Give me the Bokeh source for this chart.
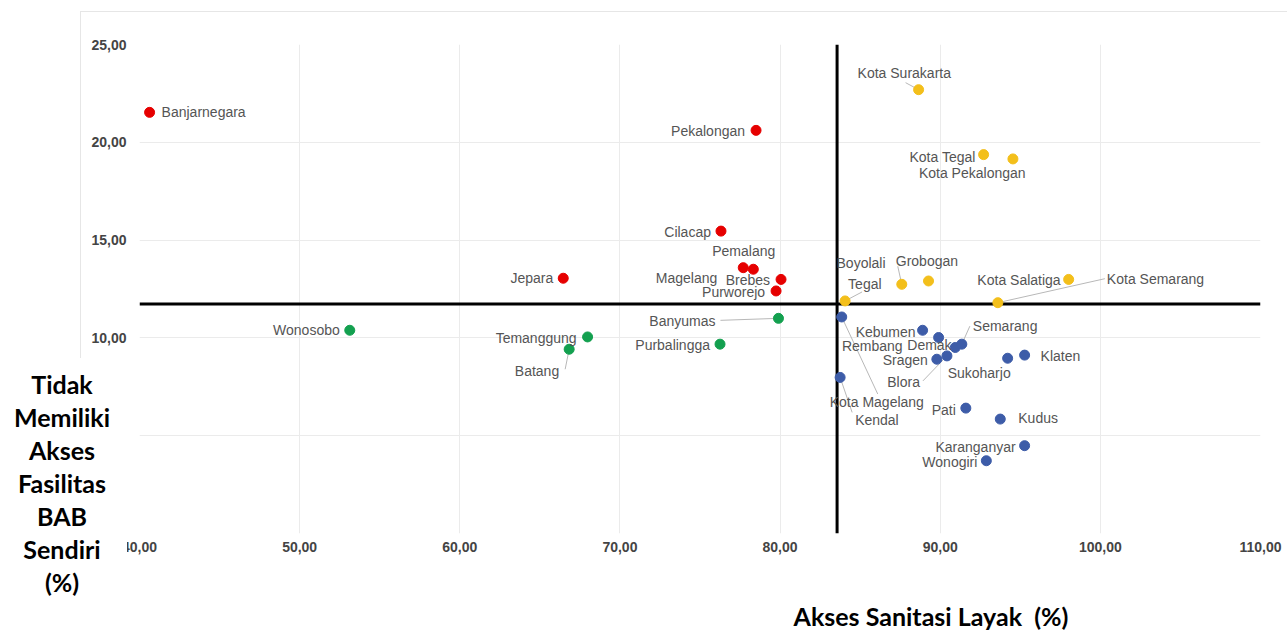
from bokeh.plotting import figure
from bokeh.models import ColumnDataSource, Range1d, FixedTicker, Span, Div, GridBox
from bokeh.core.properties import value
from bokeh.embed import file_html
from bokeh.resources import INLINE

# ---------------- data ----------------
kabupaten = [
    "Banjarnegara", "Pekalongan", "Cilacap", "Pemalang", "Magelang", "Brebes", "Purworejo", "Jepara",
    "Wonosobo", "Temanggung", "Batang", "Purbalingga", "Banyumas",
    "Kota Surakarta", "Kota Tegal", "Kota Pekalongan", "Boyolali", "Grobogan", "Tegal", "Kota Salatiga", "Kota Semarang",
    "Kota Magelang", "Kendal", "Kebumen", "Rembang", "Demak", "Semarang", "Sragen", "Blora",
    "Sukoharjo", "Klaten", "Pati", "Kudus", "Karanganyar", "Wonogiri",
]
akses_sanitasi = [
    40.63, 78.50, 76.31, 77.70, 78.33, 80.06, 79.75, 66.46,
    53.13, 67.98, 66.83, 76.25, 79.90,
    88.65, 92.71, 94.54, 89.27, 87.60, 84.06, 98.02, 93.60,
    83.85, 83.75, 88.90, 89.90, 90.94, 91.35, 89.79, 90.42,
    94.21, 95.27, 91.60, 93.75, 95.27, 92.88,
]
tanpa_bab = [
    21.53, 20.61, 15.46, 13.59, 13.51, 12.99, 12.40, 13.05,
    10.39, 10.05, 9.42, 9.68, 11.00,
    22.69, 19.37, 19.15, 12.91, 12.74, 11.89, 12.99, 11.80,
    11.07, 7.98, 10.39, 10.02, 9.51, 9.68, 8.91, 9.08,
    8.96, 9.12, 6.41, 5.85, 4.49, 3.72,
]
kuadran = (["merah"] * 8) + (["hijau"] * 5) + (["kuning"] * 8) + (["biru"] * 14)

rata_sanitasi = 83.56
rata_bab = 11.73

x_ticks = [40, 50, 60, 70, 80, 90, 100, 110]
x_tick_labels = ["40,00", "50,00", "60,00", "70,00", "80,00", "90,00", "100,00", "110,00"]
y_ticks = [0, 5, 10, 15, 20, 25]
y_tick_labels = ["0,00", "5,00", "10,00", "15,00", "20,00", "25,00"]

judul_x = "Akses Sanitasi Layak&nbsp; (%)"
judul_y = ["Tidak", "Memiliki", "Akses", "Fasilitas", "BAB", "Sendiri", "(%)"]

# ---------------- styling / layout ----------------
warna = {"merah": "#e60000", "hijau": "#13a04f", "kuning": "#f3bf1b", "biru": "#3d5ca8"}

# label placement: (dx px, dy px (down positive), align)
label_pos = {
    "Banjarnegara": (12, 0, "left"), "Pekalongan": (-11, 1, "right"), "Cilacap": (-10, 1, "right"),
    "Pemalang": (-31, -17, "left"), "Magelang": (-36, 9, "right"), "Brebes": (-11, 1, "right"),
    "Purworejo": (-11, 1, "right"), "Jepara": (-10, 0, "right"),
    "Wonosobo": (-10, 0, "right"), "Temanggung": (-11, 1, "right"), "Batang": (-10, 22, "right"),
    "Purbalingga": (-10, 1, "right"), "Banyumas": (-63, 3, "right"),
    "Kota Surakarta": (-61, -17, "left"), "Kota Tegal": (-8, 2, "right"), "Kota Pekalongan": (-94, 14, "left"),
    "Boyolali": (-92, -18, "left"), "Grobogan": (-6, -23, "left"), "Tegal": (3, -17, "left"),
    "Kota Salatiga": (-8, 1, "right"), "Kota Semarang": (109, -24, "left"),
    "Kota Magelang": (-12, 85, "left"), "Kendal": (15, 43, "left"), "Kebumen": (-7, 2, "right"),
    "Rembang": (-36, 8, "right"), "Demak": (-48, -2, "left"), "Semarang": (11, -18, "left"),
    "Sragen": (-9, 1, "right"), "Blora": (-27, 26, "right"), "Sukoharjo": (-60, 15, "left"),
    "Klaten": (16, 1, "left"), "Pati": (-10, 2, "right"), "Kudus": (18, -1, "left"),
    "Karanganyar": (-9, 1, "right"), "Wonogiri": (-9, 1, "right"),
}
leaders = {
    "Batang": (-4, 20), "Banyumas": (-58, 2), "Kota Surakarta": (-13, -7), "Grobogan": (-4, -18),
    "Tegal": (17, -9), "Kota Semarang": (107, -24), "Semarang": (8, -18), "Blora": (-24, 25),
    "Kota Magelang": (36, 77), "Kendal": (12, 35),
}

FW, FH = 1121, 489
X0, X1, Y0, Y1 = 40, 110, 0, 25
px_x = FW / (X1 - X0)
px_y = FH / (Y1 - Y0)

p = figure(frame_width=FW, frame_height=FH, min_border_left=139, min_border_right=27,
           min_border_top=44, min_border_bottom=99,
           x_range=Range1d(X0, X1), y_range=Range1d(Y0, Y1),
           output_backend="svg", toolbar_location=None)
p.outline_line_color = None
p.background_fill_color = "white"
p.border_fill_color = "white"

for ax, ticks, labels in ((p.xaxis[0], x_ticks, x_tick_labels), (p.yaxis[0], y_ticks, y_tick_labels)):
    ax.ticker = FixedTicker(ticks=ticks)
    ax.major_label_overrides = {t: l for t, l in zip(ticks, labels)}
    ax.axis_line_color = None
    ax.major_tick_line_color = None
    ax.minor_tick_line_color = None
    ax.major_tick_out = 0
    ax.major_tick_in = 0
    ax.major_label_text_font = "Liberation Sans"
    ax.major_label_text_font_size = "14px"
    ax.major_label_text_font_style = "bold"
    ax.major_label_text_color = "#444444"
p.xaxis.major_label_standoff = 8
p.yaxis.major_label_standoff = 13

for g in (p.xgrid[0], p.ygrid[0]):
    g.grid_line_color = "#ebebeb"
    g.grid_line_width = 1

vs = Span(location=rata_sanitasi, dimension="height", line_color="black", line_width=3, level="underlay")
hs = Span(location=rata_bab, dimension="width", line_color="black", line_width=3, level="underlay")
p.add_layout(vs)
p.add_layout(hs)

# leader lines
idx = {n: i for i, n in enumerate(kabupaten)}
lx0, ly0, lx1, ly1 = [], [], [], []
for n, (dx, dy) in leaders.items():
    i = idx[n]
    lx0.append(akses_sanitasi[i]); ly0.append(tanpa_bab[i])
    lx1.append(akses_sanitasi[i] + dx / px_x); ly1.append(tanpa_bab[i] - dy / px_y)
p.segment(lx0, ly0, lx1, ly1, line_color="#b8b8b8", line_width=1)

src = ColumnDataSource(dict(
    x=akses_sanitasi, y=tanpa_bab, nama=kabupaten,
    warna=[warna[k] for k in kuadran],
    dx=[label_pos[n][0] for n in kabupaten],
    dy=[label_pos[n][1] for n in kabupaten],
    align=[label_pos[n][2] for n in kabupaten],
))
p.scatter("x", "y", source=src, size=10, fill_color="warna", line_color="warna")
p.text("x", "y", text="nama", source=src, x_offset="dx", y_offset="dy", text_align="align",
       text_baseline="middle", text_font=value("Liberation Sans"), text_font_size="14px",
       text_color="#555555")

# axis titles as overlaid text boxes (as in the reference)
ydiv = Div(text=("<div style=\"width:124px;padding-top:10px;text-align:center;font-family:Lato;"
                 "font-weight:bold;font-size:25px;line-height:33px;color:#000;\">"
                 + "<br>".join(judul_y) + "</div>"),
           width=127, height=274, margin=(358, 0, 0, 0),
           styles={"background-color": "white"})
xdiv = Div(text=("<div style=\"width:320px;text-align:center;font-family:Lato;font-weight:bold;"
                 "font-size:25px;line-height:28px;color:#000;white-space:nowrap;\">" + judul_x + "</div>"),
           width=320, height=28, margin=(602, 0, 0, 771))
frame_div = Div(text="", width=1207, height=621, margin=(11, 0, 0, 80),
                styles={"border-top": "1px solid #e6e6e6", "border-left": "1px solid #e6e6e6",
                        "pointer-events": "none"})

layout = GridBox(children=[(p, 0, 0), (frame_div, 0, 0), (ydiv, 0, 0), (xdiv, 0, 0)])

open("out.html", "w").write(file_html(layout, INLINE))
